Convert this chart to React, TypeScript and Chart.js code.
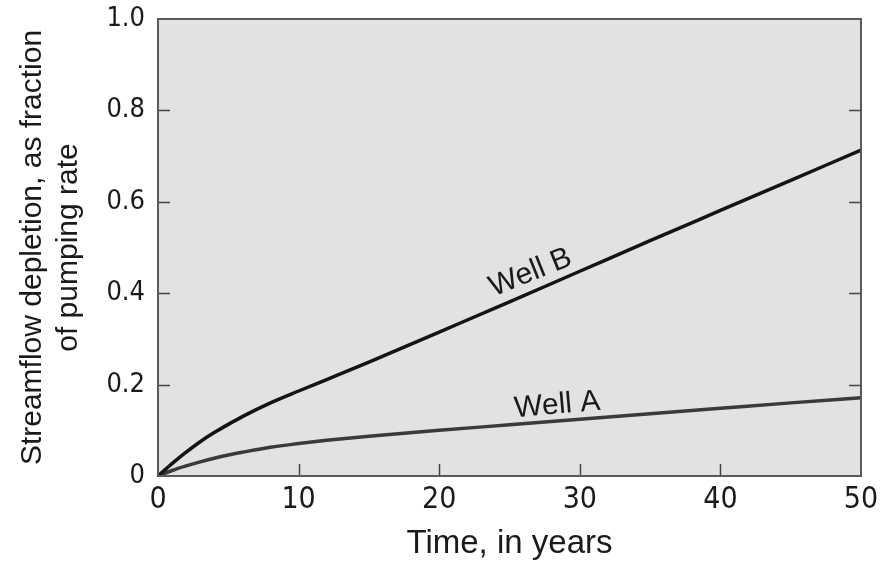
import { useEffect, useRef } from "react";
import { Chart, registerables } from "chart.js";

Chart.register(...registerables);

// ---- data ----
const timeYears = [0, 1, 2, 3, 4, 5, 6, 8, 10, 12, 15, 20, 25, 30, 35, 40, 45, 50];
const wellB = [0, 0.027, 0.052, 0.075, 0.095, 0.113, 0.13, 0.16, 0.186, 0.211, 0.249, 0.315, 0.381, 0.448, 0.515, 0.581, 0.647, 0.713];
const wellA = [0, 0.012, 0.022, 0.031, 0.039, 0.046, 0.052, 0.063, 0.071, 0.078, 0.087, 0.1, 0.112, 0.124, 0.136, 0.148, 0.16, 0.171];
const xTicks = [0, 10, 20, 30, 40, 50];
const xTickLabels = ["0", "10", "20", "30", "40", "50"];
const yTicks = [0, 0.2, 0.4, 0.6, 0.8, 1.0];
const yTickLabels = ["0", "0.2", "0.4", "0.6", "0.8", "1.0"];
const xTitle = "Time, in years";
const yTitle = ["Streamflow depletion, as fraction", "of pumping rate"];
const seriesNames = ["Well B", "Well A"];

// label anchor points (data coordinates) and rotation for the curve names
const labelB = { x: 26.5, y: 0.445, angle: -22 };
const labelA = { x: 28.4, y: 0.155, angle: -5 };

const TICK_FONT = "'Liberation Sans Narrow', 'DejaVu Sans Condensed', 'Liberation Sans', sans-serif";
const TEXT_FONT = "'Liberation Sans', Arial, sans-serif";

const framePlugin = {
  id: "frame",
  beforeDatasetsDraw(chart: any) {
    const { ctx, chartArea: a } = chart;
    ctx.save();
    ctx.fillStyle = "#e2e2e2";
    ctx.fillRect(a.left, a.top, a.right - a.left, a.bottom - a.top);
    ctx.restore();
  },
  afterDatasetsDraw(chart: any) {
    const { ctx, chartArea: a, scales } = chart;
    const xs = scales.x;
    const ys = scales.y;
    ctx.save();
    // inner ticks
    ctx.strokeStyle = "#444";
    ctx.lineWidth = 1.5;
    const tl = 12;
    xTicks.forEach((v) => {
      if (v === xTicks[0] || v === xTicks[xTicks.length - 1]) return;
      const px = Math.round(xs.getPixelForValue(v)) + 0.5;
      ctx.beginPath();
      ctx.moveTo(px, a.bottom);
      ctx.lineTo(px, a.bottom - tl);
      ctx.stroke();
    });
    yTicks.forEach((v) => {
      if (v === yTicks[0] || v === yTicks[yTicks.length - 1]) return;
      const py = Math.round(ys.getPixelForValue(v)) + 0.5;
      ctx.beginPath();
      ctx.moveTo(a.left, py);
      ctx.lineTo(a.left + tl, py);
      ctx.moveTo(a.right, py);
      ctx.lineTo(a.right - tl, py);
      ctx.stroke();
    });
    // frame
    ctx.strokeStyle = "#5a5a5a";
    ctx.lineWidth = 2;
    ctx.strokeRect(a.left, a.top, a.right - a.left, a.bottom - a.top);

    // curve labels
    ctx.fillStyle = "#1a1a1a";
    ctx.font = `30px ${TEXT_FONT}`;
    ctx.textAlign = "center";
    ctx.textBaseline = "middle";
    [
      { name: seriesNames[0], p: labelB },
      { name: seriesNames[1], p: labelA },
    ].forEach(({ name, p }) => {
      const px = xs.getPixelForValue(p.x);
      const py = ys.getPixelForValue(p.y);
      ctx.save();
      ctx.translate(px, py);
      ctx.rotate((p.angle * Math.PI) / 180);
      ctx.fillText(name, 0, 0);
      ctx.restore();
    });
    ctx.restore();
  },
};

export default function App() {
  const ref = useRef<HTMLCanvasElement | null>(null);

  useEffect(() => {
    document.body.style.margin = "0";
    const canvas = ref.current;
    if (!canvas) return;
    const chart = new Chart(canvas, {
      type: "line",
      data: {
        datasets: [
          {
            label: seriesNames[0],
            data: timeYears.map((t, i) => ({ x: t, y: wellB[i] })),
            borderColor: "#141414",
            borderWidth: 3.5,
            pointRadius: 0,
            cubicInterpolationMode: "monotone",
            fill: false,
          },
          {
            label: seriesNames[1],
            data: timeYears.map((t, i) => ({ x: t, y: wellA[i] })),
            borderColor: "#3a3a3a",
            borderWidth: 3.5,
            pointRadius: 0,
            cubicInterpolationMode: "monotone",
            fill: false,
          },
        ],
      },
      options: {
        responsive: false,
        animation: false,
        devicePixelRatio: 1,
        layout: { padding: { top: 19, right: 29, left: 0, bottom: 0 } },
        plugins: {
          legend: { display: false },
          tooltip: { enabled: false },
        },
        scales: {
          x: {
            type: "linear",
            min: 0,
            max: 50,
            grid: { display: false, drawTicks: false },
            border: { display: false },
            afterBuildTicks: (s: any) => {
              s.ticks = xTicks.map((v) => ({ value: v }));
            },
            afterFit: (s: any) => {
              s.height = 89;
              s.paddingLeft = 0;
              s.paddingRight = 0;
            },
            ticks: {
              autoSkip: false,
              maxRotation: 0,
              padding: 6,
              color: "#1a1a1a",
              font: { family: TICK_FONT, size: 30 },
              callback: (_v: any, i: number) => xTickLabels[i],
            },
            title: {
              display: true,
              text: xTitle,
              color: "#1a1a1a",
              font: { family: TEXT_FONT, size: 33, lineHeight: 1.2 },
              padding: { top: 0, bottom: 1 },
            },
          },
          y: {
            type: "linear",
            min: 0,
            max: 1,
            grid: { display: false, drawTicks: false },
            border: { display: false },
            afterBuildTicks: (s: any) => {
              s.ticks = yTicks.map((v) => ({ value: v }));
            },
            afterFit: (s: any) => {
              s.width = 158;
              s.paddingTop = 0;
              s.paddingBottom = 0;
            },
            ticks: {
              autoSkip: false,
              padding: 13,
              color: "#1a1a1a",
              font: { family: TICK_FONT, size: 27 },
              callback: (_v: any, i: number) => yTickLabels[i],
            },
            title: {
              display: true,
              text: yTitle,
              color: "#1a1a1a",
              font: { family: TEXT_FONT, size: 30, lineHeight: 1.2 },
              padding: { top: 15, bottom: 0 },
            },
          },
        },
      },
      plugins: [framePlugin],
    } as any);
    return () => chart.destroy();
  }, []);

  return (
    <div style={{ width: 890, height: 565, background: "#fff" }}>
      <canvas ref={ref} width={890} height={565} />
    </div>
  );
}
